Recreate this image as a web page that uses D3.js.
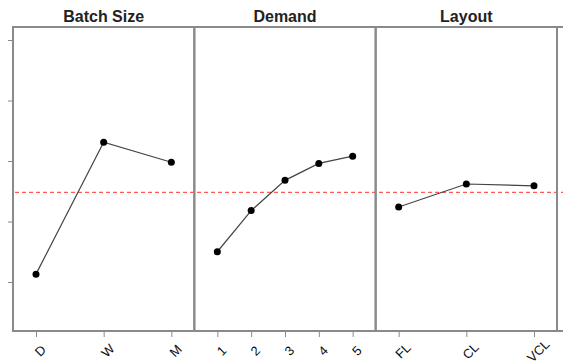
<!DOCTYPE html>
<html>
<head>
<meta charset="utf-8">
<script src="https://cdn.jsdelivr.net/npm/d3@7"></script>
<style>
  body { margin: 0; background: #fff; }
  svg { font-family: "Liberation Sans", Arial, sans-serif; }
</style>
</head>
<body>
<script>
// factor levels and the mean response at each level
const panelNames = ["Batch Size", "Demand", "Layout"];
const batchLevels = ["D", "W", "M"];
const batchMeans = [11.3, 33.1, 29.8];
const demandLevels = ["1", "2", "3", "4", "5"];
const demandMeans = [15.0, 21.8, 26.8, 29.6, 30.8];
const layoutLevels = ["FL", "CL", "VCL"];
const layoutMeans = [22.4, 26.2, 25.9];
const grandMean = 24.8;
const yTicks = [10, 20, 30, 40, 50];

const width = 575, height = 363;
const plotTop = 27, plotBottom = 331, plotLeft = 13, plotRight = 557;

const panels = [
  { name: panelNames[0], levels: batchLevels, means: batchMeans },
  { name: panelNames[1], levels: demandLevels, means: demandMeans },
  { name: panelNames[2], levels: layoutLevels, means: layoutMeans }
];

const svg = d3.select("body")
    .append("svg")
    .attr("width", width)
    .attr("height", height);

const y = d3.scaleLinear()
    .domain([10, 50])
    .range([282, 40]);

const panelScale = d3.scaleBand()
    .domain(panelNames)
    .range([plotLeft, plotRight]);

const frame = "#8a8a8a";

// red dashed grand mean line
svg.append("line")
    .attr("x1", plotLeft + 2).attr("x2", plotRight + 6)
    .attr("y1", y(grandMean)).attr("y2", y(grandMean))
    .attr("stroke", "#ff5a5a")
    .attr("stroke-width", 1.3)
    .attr("stroke-dasharray", "4,3");

// y axis ticks (no labels)
svg.append("g")
    .attr("transform", `translate(${plotLeft},0)`)
    .call(d3.axisLeft(y).tickValues(yTicks).tickFormat("").tickSize(5))
    .call(g => g.select(".domain").remove())
    .call(g => g.selectAll("line").attr("stroke", frame).attr("stroke-width", 1));

panels.forEach(p => {
  const x0 = panelScale(p.name);
  const x1 = x0 + panelScale.bandwidth();
  const x = d3.scalePoint()
      .domain(p.levels)
      .range([x0 + 23, x1 - 23]);

  const g = svg.append("g");

  // title
  g.append("text")
      .attr("x", (x0 + x1) / 2)
      .attr("y", 22)
      .attr("text-anchor", "middle")
      .attr("font-size", 16)
      .attr("font-weight", "bold")
      .attr("fill", "#222")
      .text(p.name);

  // vertical panel edges
  [x0, x1].forEach(xx => {
    g.append("line")
        .attr("x1", xx).attr("x2", xx)
        .attr("y1", plotTop).attr("y2", plotBottom)
        .attr("stroke", frame)
        .attr("stroke-width", 2);
  });

  // bottom axis
  const ax = g.append("g")
      .attr("transform", `translate(0,${plotBottom})`)
      .call(d3.axisBottom(x).tickSize(6).tickSizeOuter(0));
  ax.select(".domain").remove();
  ax.selectAll("line").attr("stroke", frame).attr("stroke-width", 1);
  ax.selectAll("text")
      .attr("font-size", 13)
      .attr("fill", "#111")
      .attr("text-anchor", "middle")
      .attr("dy", null)
      .attr("y", null)
      .attr("transform", "translate(7,23) rotate(-45)");

  const pts = p.levels.map((l, i) => [x(l), y(p.means[i])]);

  g.append("path")
      .attr("d", d3.line()(pts))
      .attr("fill", "none")
      .attr("stroke", "#444")
      .attr("stroke-width", 1.2);

  g.selectAll("circle")
      .data(pts)
      .join("circle")
      .attr("cx", d => d[0])
      .attr("cy", d => d[1])
      .attr("r", 3.5)
      .attr("fill", "#000");
});

// top and bottom frame lines
[plotTop, plotBottom].forEach(yy => {
  svg.append("line")
      .attr("x1", plotLeft - 1).attr("x2", plotRight + 6)
      .attr("y1", yy).attr("y2", yy)
      .attr("stroke", frame)
      .attr("stroke-width", 2);
});
</script>
</body>
</html>
